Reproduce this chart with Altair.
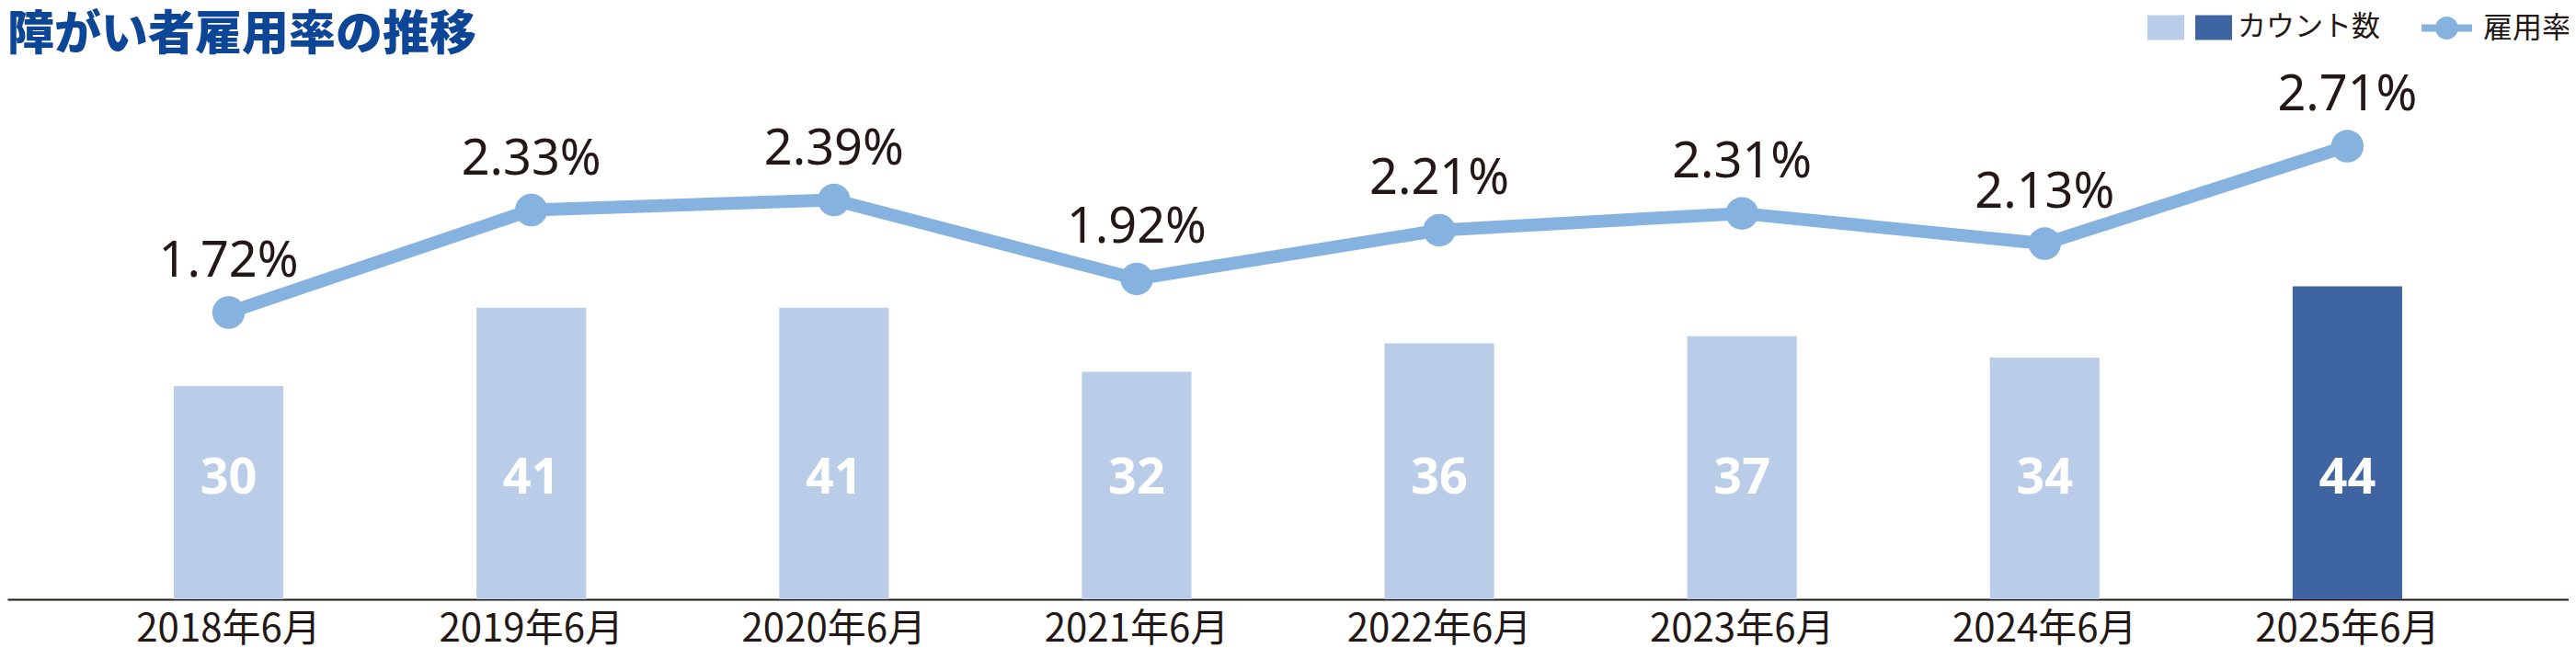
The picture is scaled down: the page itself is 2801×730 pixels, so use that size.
import altair as alt
import pandas as pd

# ---- data ----
periods = ["2018年6月", "2019年6月", "2020年6月", "2021年6月",
           "2022年6月", "2023年6月", "2024年6月", "2025年6月"]
counts = [30, 41, 41, 32, 36, 37, 34, 44]
rates = [1.72, 2.33, 2.39, 1.92, 2.21, 2.31, 2.13, 2.71]
kinds = ["past", "past", "past", "past", "past", "past", "past", "latest"]

df = pd.DataFrame({"period": periods, "count": counts, "rate": rates, "kind": kinds})

LIGHT = "#b9cce8"
DARK = "#3e64a1"
LINE = "#85b2de"
TEXT = "#231815"
TITLE = "#0d4597"
JP = "Noto Sans CJK JP"

W, H = 2785, 572

x = alt.X("period:N", sort=periods, title=None,
          scale=alt.Scale(paddingInner=0.638, paddingOuter=0.55),
          axis=alt.Axis(labelAngle=0, labelFontSize=42, labelFont=JP, labelColor=TEXT,
                        labelPadding=12, labelLimit=500, ticks=False, domainColor=TEXT,
                        domainWidth=2, grid=False))

count_scale = alt.Scale(domain=[0, 73.94], nice=False, zero=False)
rate_scale = alt.Scale(domain=[0.0132, 3.1424], nice=False, zero=False)
ycount = alt.Y("count:Q", scale=count_scale, axis=None)
yrate = alt.Y("rate:Q", scale=rate_scale, axis=None)

rect_path = "M-1,-0.675L1,-0.675L1,0.675L-1,0.675Z"
line_path = ("M-1,-0.145L1,-0.145L1,0.145L-1,0.145Z"
             "M0.4545,0A0.4545,0.4545,0,1,1,-0.4545,0A0.4545,0.4545,0,1,1,0.4545,0Z")

bars = alt.Chart(df).mark_bar().encode(
    x=x,
    y=ycount,
    color=alt.Color("kind:N",
                    scale=alt.Scale(domain=["past", "latest"], range=[LIGHT, DARK]),
                    legend=alt.Legend(title=None, orient="none", direction="horizontal",
                                      legendX=2327, legendY=-70, padding=0,
                                      symbolType=rect_path, symbolSize=1600,
                                      symbolStrokeWidth=0, symbolOpacity=1,
                                      labelOffset=6, columnPadding=6, labelLimit=400,
                                      labelFontSize=31, labelFont=JP, labelColor=TEXT,
                                      labelExpr="datum.value == 'latest' ? 'カウント数' : ''")),
)

bar_labels = alt.Chart(df).mark_text(
    color="white", fontSize=54, fontWeight="bold", font="Noto Sans", baseline="middle"
).encode(
    x=x,
    y=alt.datum(16.9, scale=count_scale, axis=None),
    text="count:Q",
)

line = alt.Chart(df).mark_line(color=LINE, strokeWidth=14).encode(x=x, y=yrate)

points = alt.Chart(df).transform_calculate(series="'雇用率'").mark_point(
    filled=True, size=1260, color=LINE, shape="circle"
).encode(
    x=x,
    y=yrate,
    opacity=alt.Opacity("series:N", scale=alt.Scale(domain=["雇用率"], range=[1]),
                        legend=alt.Legend(title=None, orient="none", legendX=2625, legendY=-77,
                                          padding=0, symbolType=line_path, symbolSize=3025,
                                          symbolFillColor=LINE, symbolStrokeWidth=0,
                                          symbolOpacity=1, labelOffset=12, labelLimit=400,
                                          labelFontSize=32, labelFont=JP, labelColor=TEXT)),
)

rate_labels = alt.Chart(df).transform_calculate(
    label="format(datum.rate, '.2f') + '%'"
).mark_text(
    color=TEXT, fontSize=54, font="Noto Sans", baseline="alphabetic", dy=-39
).encode(x=x, y=yrate, text="label:N")

chart = alt.layer(bars, bar_labels, line, points, rate_labels).resolve_scale(
    y="independent"
).properties(
    width=W, height=H,
    title=alt.TitleParams("障がい者雇用率の推移", anchor="start", frame="group",
                          fontSize=51, font=JP, fontWeight=900, color=TITLE,
                          offset=14, dy=76),
    autosize=alt.AutoSizeParams(type="none"),
    padding={"left": 0, "top": 72, "right": 0, "bottom": 62},
).configure_view(strokeWidth=0)

chart.save("out.html", embed_options={"renderer": "svg", "actions": False})
